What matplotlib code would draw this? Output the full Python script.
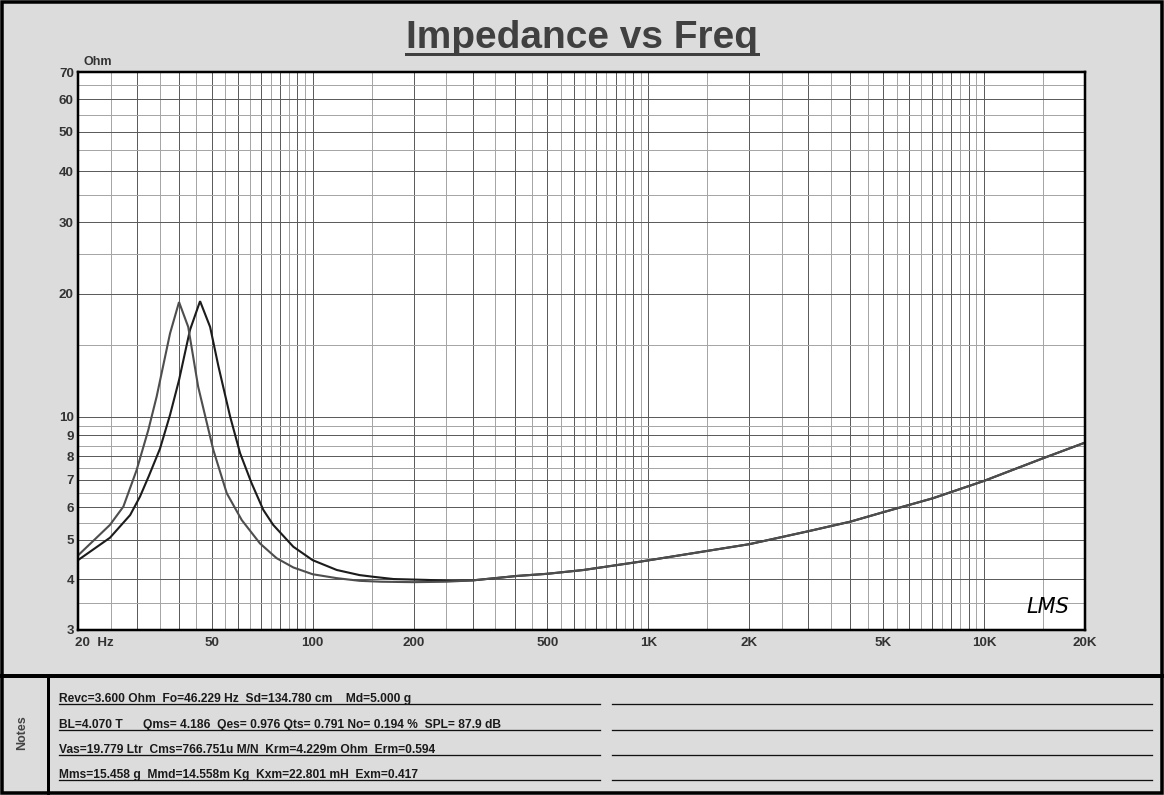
import matplotlib
matplotlib.use('Agg')
import matplotlib.pyplot as plt
from matplotlib.lines import Line2D
from matplotlib.patches import Rectangle
from matplotlib.transforms import Affine2D, ScaledTranslation
import matplotlib.font_manager as fm

# ---------------- data ----------------
gray_freq = [20, 24.9, 27.3, 29.9, 32.4, 34.3, 37.6, 40.0, 42.6, 45.6, 50.6, 55.5, 61.5, 69.7,
             78.1, 87.6, 100, 118, 138, 160, 200, 250, 300, 406, 500, 642, 942, 2000, 3000,
             4000, 5000, 7040, 10000, 15000, 20000]
gray_ohm = [4.57, 5.43, 6.02, 7.40, 9.28, 11.2, 16.0, 19.1, 16.6, 11.85, 8.29, 6.49, 5.58, 4.89,
            4.50, 4.27, 4.11, 4.02, 3.96, 3.94, 3.93, 3.94, 3.97, 4.07, 4.12, 4.21, 4.41, 4.87, 5.24,
            5.53, 5.83, 6.31, 6.96, 7.91, 8.64]

black_freq = [20, 24.9, 28.6, 30.6, 32.5, 35.1, 37.6, 40.0, 43.1, 46.2, 49.5, 52.4, 56.8, 60.8,
              65.8, 71.3, 76.3, 87.6, 100, 118, 138, 152, 174, 219, 260, 300, 406, 500, 642, 942,
              2000, 3000, 4000, 5000, 7040, 10000, 15000, 20000]
black_ohm = [4.45, 5.05, 5.74, 6.37, 7.15, 8.35, 10.1, 12.3, 16.3, 19.2, 16.6, 13.3, 10.0, 8.14,
             6.87, 5.91, 5.43, 4.80, 4.45, 4.21, 4.09, 4.05, 4.00, 3.98, 3.96, 3.97, 4.07, 4.12, 4.21,
             4.41, 4.87, 5.24, 5.53, 5.83, 6.31, 6.96, 7.91, 8.64]

x_grid_dark = [20, 30, 40, 50, 60, 70, 80, 90, 100, 200, 300, 400, 500, 600, 700, 800, 900,
               1000, 2000, 3000, 4000, 5000, 6000, 7000, 8000, 9000, 10000, 20000]
x_grid_light = [25, 35, 45, 55, 65, 75, 85, 95, 150, 250, 350, 450, 550, 650, 750, 850, 950,
                1500, 2500, 3500, 4500, 5500, 6500, 7500, 8500, 9500, 15000]
x_tick_labels = {20: '20  Hz', 50: '50', 100: '100', 200: '200', 500: '500', 1000: '1K',
                 2000: '2K', 5000: '5K', 10000: '10K', 20000: '20K'}

y_grid_dark = [3, 4, 5, 6, 7, 8, 9, 10, 20, 30, 40, 50, 60, 70]
y_grid_light = [3.5, 4.5, 5.5, 6.5, 7.5, 8.5, 9.5, 15, 25, 35, 45, 55, 65]
y_tick_labels = ['3', '4', '5', '6', '7', '8', '9', '10', '20', '30', '40', '50', '60', '70']

title = 'Impedance vs Freq'
y_unit = 'Ohm'
notes_label = 'Notes'
notes_lines = [
    'Revc=3.600 Ohm  Fo=46.229 Hz  Sd=134.780 cm    Md=5.000 g',
    'BL=4.070 T      Qms= 4.186  Qes= 0.976 Qts= 0.791 No= 0.194 %  SPL= 87.9 dB',
    'Vas=19.779 Ltr  Cms=766.751u M/N  Krm=4.229m Ohm  Erm=0.594',
    'Mms=15.458 g  Mmd=14.558m Kg  Kxm=22.801 mH  Exm=0.417',
]
notes_target_right = [409, 495, 437, 417]

# ---------------- figure ----------------
W, H = 1164, 795
BG = '#dcdcdc'
fig = plt.figure(figsize=(W / 100, H / 100), dpi=100, facecolor=BG)
# pixel coordinates measured from top-left
T = Affine2D().scale(1, -1).translate(0, H) + Affine2D().scale(1 / W, 1 / H) + fig.transFigure
PT = 0.72  # points per pixel

installed = {f.name for f in fm.fontManager.ttflist}
base_family = 'Liberation Sans' if 'Liberation Sans' in installed else 'DejaVu Sans'
notes_family = 'Liberation Sans Narrow' if 'Liberation Sans Narrow' in installed else base_family

L, R, TOP, BOT = 78, 1085, 72, 630
ax = fig.add_axes([L / W, 1 - BOT / H, (R - L) / W, (BOT - TOP) / H])
ax.set_facecolor('white')
ax.set_xscale('log')
ax.set_yscale('log')
ax.set_xlim(20, 20000)
ax.set_ylim(3, 70)

ax.set_xticks(x_grid_dark, labels=[x_tick_labels.get(v, '') for v in x_grid_dark])
ax.set_xticks(x_grid_light, labels=['' for _ in x_grid_light], minor=True)
ax.set_yticks(y_grid_dark, labels=y_tick_labels)
ax.set_yticks(y_grid_light, labels=['' for _ in y_grid_light], minor=True)
ax.grid(True, which='major', color='#5c5c5c', lw=1.0 * PT)
ax.grid(True, which='minor', color='#a6a6a6', lw=1.0 * PT)
ax.set_axisbelow(True)
ax.tick_params(which='both', length=0)
ax.tick_params(axis='x', pad=5.0)
ax.tick_params(axis='y', pad=3)

tick_fp = fm.FontProperties(family=base_family, weight='bold', size=9.6)
for lbl in ax.get_xticklabels() + ax.get_yticklabels():
    lbl.set_fontproperties(tick_fp)
    lbl.set_color('#333333')
first = ax.get_xticklabels()[0]
first.set_horizontalalignment('left')
first.set_transform(first.get_transform() + ScaledTranslation(-3 / 100, 0, fig.dpi_scale_trans))

for sp in ax.spines.values():
    sp.set_color('black')
    sp.set_linewidth(2.5 * PT)

ax.plot(black_freq, black_ohm, color='#1c1c1c', lw=2.1 * PT, solid_joinstyle='miter')
ax.plot(gray_freq, gray_ohm, color='#4e4e4e', lw=2.1 * PT, solid_joinstyle='miter')

# LMS mark
fig.text(1048, 607, 'LMS', transform=T, ha='center', va='center', fontsize=15,
         style='italic', family='DejaVu Sans', weight='light', color='black')

# title with underline
t = fig.text(581.5, 48, title, transform=T, ha='center', va='baseline', fontsize=28,
             weight='bold', color='#404040', family=base_family)
fig.text(83, 65, y_unit, transform=T, ha='left', va='baseline', fontsize=9,
         weight='bold', color='#333333', family=base_family)

# frames
fig.add_artist(Rectangle((1.75, 1.75), W - 3.5, H - 3.5, transform=T, fill=False,
                         ec='black', lw=3.5 * PT))
fig.add_artist(Line2D([0, W], [676, 676], transform=T, color='black', lw=4 * PT))
fig.add_artist(Line2D([48, 48], [676, H], transform=T, color='black', lw=3 * PT))

fig.text(22.5, 733, notes_label, transform=T, ha='center', va='center', rotation=90,
         fontsize=9, weight='bold', color='#444444', family=base_family)

underline_y = [704, 729.5, 754.5, 779.5]
note_texts = []
for s, y in zip(notes_lines, underline_y):
    note_texts.append(fig.text(59, y - 1.8, s, transform=T, ha='left', va='baseline',
                               fontsize=7.5, weight='bold', color='#1a1a1a', family=notes_family))
    fig.add_artist(Line2D([59, 600], [y, y], transform=T, color='#111111', lw=1.3 * PT))
    fig.add_artist(Line2D([612, 1152], [y, y], transform=T, color='#111111', lw=1.3 * PT))

# fit notes font size and title underline to measured widths
fig.canvas.draw()
r = fig.canvas.get_renderer()
ratios = []
for txt, right in zip(note_texts, notes_target_right):
    bb = txt.get_window_extent(r)
    ratios.append((right - 59) / bb.width)
scale = sum(ratios) / len(ratios)
for txt in note_texts:
    txt.set_fontsize(7.5 * scale)

bb = t.get_window_extent(r)
fig.add_artist(Line2D([bb.x0, bb.x1], [H - 54, H - 54], transform=Affine2D().scale(1 / W, 1 / H) + fig.transFigure,
                      color='#404040', lw=3 * PT))

fig.savefig('out.png', dpi=100, facecolor=BG)
